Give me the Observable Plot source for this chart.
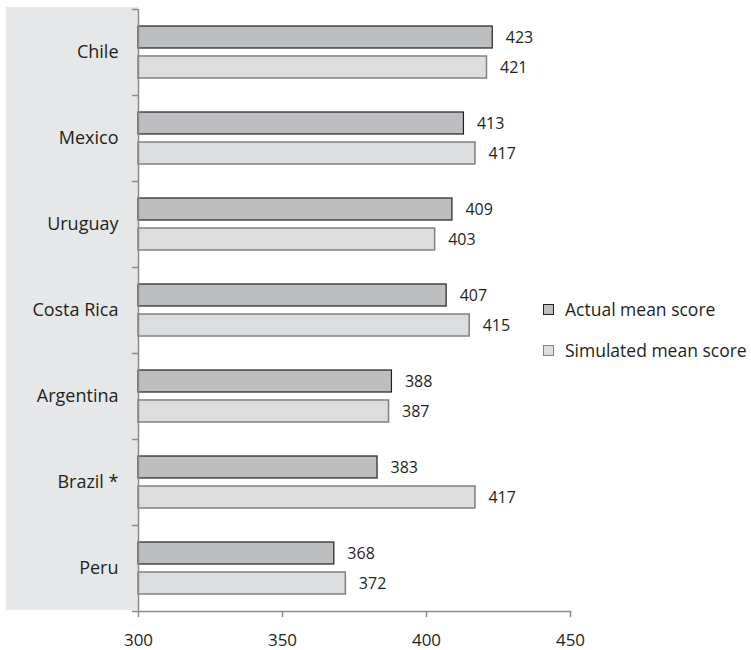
<!DOCTYPE html>
<html>
<head>
<meta charset="utf-8">
<script src="https://cdn.jsdelivr.net/npm/d3@7"></script>
<script src="https://cdn.jsdelivr.net/npm/@observablehq/plot@0.6"></script>
<style>
  body { margin: 0; background: #fff; font-family: "Open Sans", sans-serif; color: #231f20; }
  #wrap { position: relative; width: 751px; height: 650px; }
  #panel { position: absolute; left: 6px; top: 7px; width: 132px; height: 603px; background: #e6e7e8; }
  #chart { position: absolute; left: 0; top: 0; }
  #legend { position: absolute; left: 543px; top: 289px; font-size: 17.5px; line-height: 41px; }
  .row { display: flex; align-items: center; white-space: nowrap; }
  .sw { width: 9px; height: 9px; margin-right: 11px; box-sizing: content-box; }
</style>
</head>
<body>
<div id="wrap">
  <div id="panel"></div>
  <div id="chart"></div>
  <div id="legend"></div>
</div>
<script>
// Mean scores by country
const countries = ["Chile", "Mexico", "Uruguay", "Costa Rica", "Argentina", "Brazil *", "Peru"];
const actualScores = [423, 413, 409, 407, 388, 383, 368];
const simulatedScores = [421, 417, 403, 415, 387, 417, 372];
const xTicks = [300, 350, 400, 450];
const seriesNames = ["Actual mean score", "Simulated mean score"];

const actualFill = "#bcbec0", actualStroke = "#231f20";
const simFill = "#dcddde", simStroke = "#808080";
const axisColor = "#8a8a8a";

const actualRows = countries.map((c, i) => ({country: c, value: actualScores[i]}));
const simRows = countries.map((c, i) => ({country: c, value: simulatedScores[i]}));

const marginTop = 9, marginBottom = 39, height = 650;
const band = (height - marginTop - marginBottom) / countries.length; // ~86px per country
const barH = 22, gap = 8;
const topPad = (band - 2 * barH - gap) / 2;

const chart = Plot.plot({
  width: 751,
  height,
  marginLeft: 138,
  marginRight: 181,
  marginTop,
  marginBottom,
  style: {background: "transparent", fontFamily: "Open Sans, sans-serif", color: "#231f20"},
  x: {domain: [300, 450], label: null},
  y: {domain: countries, padding: 0, label: null},
  marks: [
    Plot.barX(actualRows, {
      y: "country", x1: 300, x2: "value",
      insetTop: topPad, insetBottom: band - topPad - barH,
      fill: actualFill, stroke: actualStroke, strokeWidth: 1.2
    }),
    Plot.barX(simRows, {
      y: "country", x1: 300, x2: "value",
      insetTop: topPad + barH + gap, insetBottom: topPad,
      fill: simFill, stroke: simStroke, strokeWidth: 1.5
    }),
    Plot.text(actualRows, {
      y: "country", x: "value", text: d => String(d.value),
      dx: 13, dy: -(barH + gap) / 2, textAnchor: "start", fontSize: 16, fill: "#231f20"
    }),
    Plot.text(simRows, {
      y: "country", x: "value", text: d => String(d.value),
      dx: 13, dy: (barH + gap) / 2, textAnchor: "start", fontSize: 16, fill: "#231f20"
    }),
    // category boundary ticks on the left axis
    Plot.ruleY(countries, {y: d => d, dy: -band / 2, x1: 300, x2: 300, insetLeft: -6, stroke: axisColor, strokeWidth: 1.5}),
    Plot.ruleY(countries.slice(-1), {y: d => d, dy: band / 2, x1: 300, x2: 300, insetLeft: -6, stroke: axisColor, strokeWidth: 1.5}),
    Plot.ruleX([300], {stroke: axisColor, strokeWidth: 1.5}),
    Plot.frame({anchor: "bottom", stroke: axisColor, strokeWidth: 1.5}),
    Plot.axisY({tickSize: 0, tickPadding: 20, fontSize: 18, fill: "#231f20", label: null}),
    Plot.axisX({ticks: xTicks, tickFormat: d => String(d), tickSize: 6, tickPadding: 16, fontSize: 17,
      stroke: axisColor, strokeWidth: 1.5, fill: "#231f20", label: null})
  ]
});
document.getElementById("chart").appendChild(chart);

const legend = document.getElementById("legend");
[[actualFill, actualStroke], [simFill, simStroke]].forEach(([f, s], i) => {
  const row = document.createElement("div");
  row.className = "row";
  const sw = document.createElement("span");
  sw.className = "sw";
  sw.style.background = f;
  sw.style.border = `1.2px solid ${s}`;
  row.appendChild(sw);
  const t = document.createElement("span");
  t.textContent = seriesNames[i];
  row.appendChild(t);
  legend.appendChild(row);
});
</script>
</body>
</html>
